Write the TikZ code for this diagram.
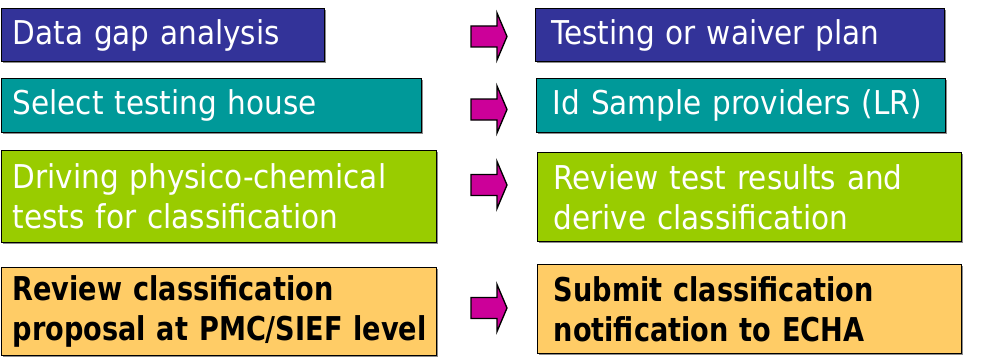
\documentclass[tikz,border=0pt]{standalone}
\usepackage{fontspec}
\setmainfont{DejaVu Sans Condensed}[BoldFeatures={FakeStretch=0.92}]
\usetikzlibrary{shadows}
\definecolor{gapblue}{HTML}{333399}
\definecolor{houseteal}{HTML}{009999}
\definecolor{testgreen}{HTML}{99CC00}
\definecolor{reviewgold}{HTML}{FFCC66}
\definecolor{arrowpink}{HTML}{CC0099}
\begin{document}
\begin{tikzpicture}[x=0.75pt,y=-0.75pt,
  stepbox/.style={draw=black,line width=1pt,anchor=north west,align=left,inner ysep=0pt,
    font=\fontsize{24.6}{30}\selectfont,
    drop shadow={shadow xshift=1.2pt,shadow yshift=-1.2pt,fill=black!45,opacity=1}},
  leftbox/.style={stepbox,inner xsep=8.25pt},
  rightbox/.style={stepbox,inner xsep=12pt},
  boldtext/.style={font=\fontsize{24.6}{30}\selectfont\bfseries}]
\useasboundingbox (0,0) rectangle (981,360);

% left column
\node[leftbox,fill=gapblue,text=white,minimum height=39.75pt,text width=225.75pt] (gapL) at (1,8) {Data gap analysis};
\node[leftbox,fill=houseteal,text=white,minimum height=40.5pt,text width=298.5pt] (houseL) at (1,78) {Select testing house};
\node[leftbox,fill=testgreen,text=white,minimum height=69pt,text width=309.75pt] (testL) at (1,150) {Driving physico-chemical\\tests for classification};
\node[leftbox,fill=reviewgold,text=black,minimum height=66pt,text width=309.75pt,boldtext] (reviewL) at (1,267) {Review classification\\\mbox{proposal at PMC/SIEF level}};

% right column
\node[rightbox,fill=gapblue,text=white,minimum height=39.75pt,text width=282.75pt] (planR) at (535,8) {Testing or waiver plan};
\node[rightbox,fill=houseteal,text=white,minimum height=40.5pt,text width=282.75pt] (sampleR) at (536,78) {Id Sample providers (LR)};
\node[rightbox,fill=testgreen,text=white,minimum height=66.75pt,text width=294pt] (resultR) at (537,152) {Review test results and\\derive classification};
\node[rightbox,fill=reviewgold,text=black,minimum height=66.75pt,text width=294pt,boldtext] (notifyR) at (537,264) {Submit classification\\notification to ECHA};

% block arrows
\foreach \y in {36.5,109.5,185,308} {
  \filldraw[fill=arrowpink,draw=black,line width=1pt,line join=miter]
    (471,\y-10.5) -- (497,\y-10.5) -- (497,\y-23.5) -- (507,\y)
    -- (497,\y+23.5) -- (497,\y+10.5) -- (471,\y+10.5) -- cycle;
}
\end{tikzpicture}
\end{document}
